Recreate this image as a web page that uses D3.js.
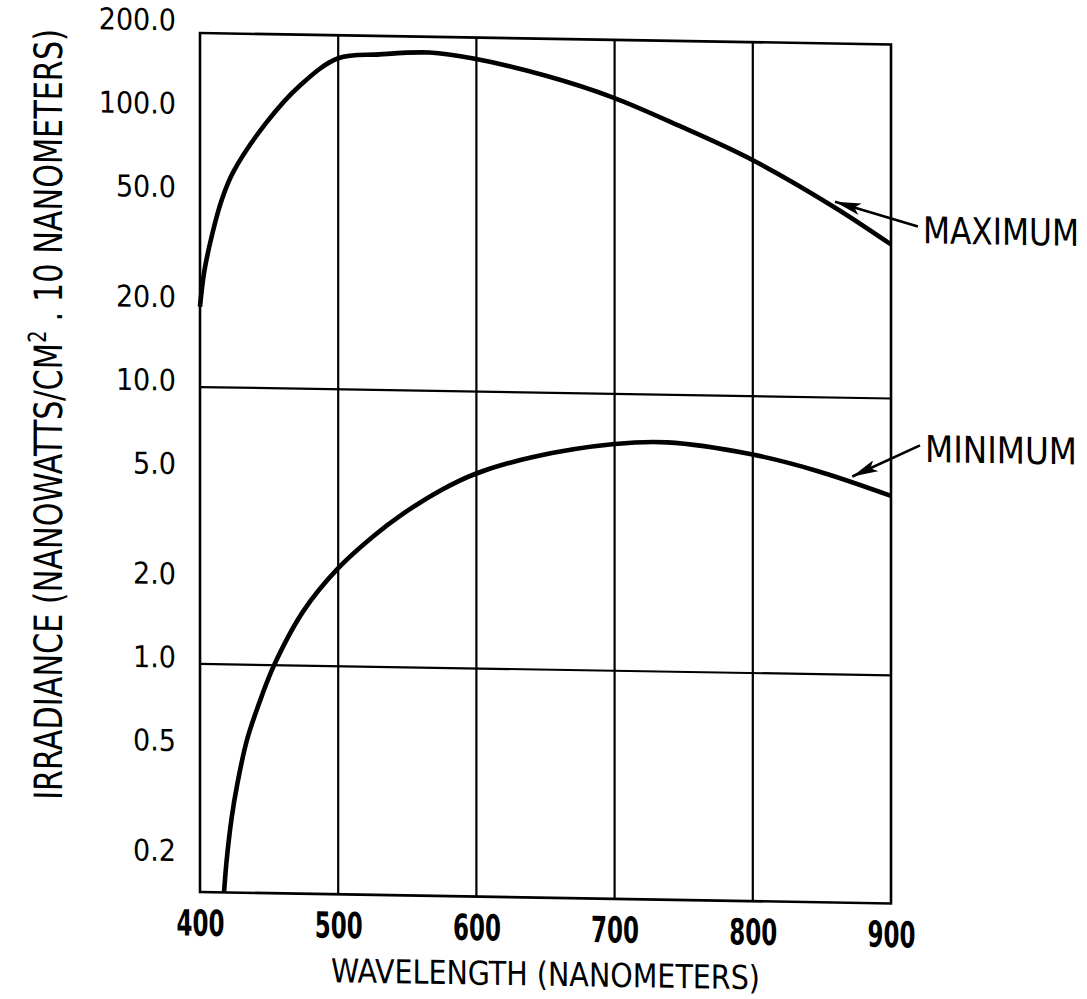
<!DOCTYPE html>
<html>
<head>
<meta charset="utf-8">
<script src="https://cdn.jsdelivr.net/npm/d3@7"></script>
<style>
  body { margin: 0; background: #fff; }
  svg { display: block; }
  text { font-family: "DejaVu Sans Condensed", "DejaVu Sans", sans-serif; fill: #000; }
</style>
</head>
<body>
<svg id="chart" width="1087" height="999"></svg>
<script>
// Axis ticks
const wavelengthTicks = [400, 500, 600, 700, 800, 900];
const irradianceTicks = [0.2, 0.5, 1, 2, 5, 10, 20, 50, 100, 200];
const gridWavelengths = [500, 600, 700, 800];
const gridIrradiance = [1, 10];

// Maximum curve
const maxWavelength = [400, 403, 409, 416, 424, 448, 472, 500, 530, 566, 598, 651, 699, 747, 798, 859, 900];
const maxIrradiance = [19.5, 26, 36, 48, 60, 91, 124, 157, 163, 166.7, 159.6, 139.4, 117.6, 93.7, 72, 48.7, 36];

// Minimum curve
const minWavelength = [417.4, 419.2, 422.8, 427, 434, 445, 454, 475, 500, 525, 545, 575, 599, 641, 700, 738, 798, 846, 900];
const minIrradiance = [0.15, 0.194, 0.277, 0.37, 0.535, 0.78, 1.01, 1.58, 2.26, 2.95, 3.53, 4.4, 5.04, 5.85, 6.59, 6.73, 6.18, 5.43, 4.45];

// Annotation labels with arrow tip / tail in data units
const annotationLabels = ['MAXIMUM', 'MINIMUM'];
const annotationWidths = [156, 152];
const arrowTips = [[859.5, 51], [872, 5.2]];
const arrowTails = [[919.5, 42], [921, 6.8]];

const margin = { top: 33, right: 196, bottom: 107, left: 200 };
const width = 1087 - margin.left - margin.right;
const height = 999 - margin.top - margin.bottom;

const svg = d3.select('#chart');

// squeeze a text horizontally to a target width (the original uses a condensed face)
function fitWidth(sel, target) {
  sel.each(function (d, i) {
    const t = typeof target === 'function' ? target(d, i) : target;
    const len = this.getComputedTextLength();
    const prev = d3.select(this).attr('transform') || '';
    d3.select(this).attr('transform', `${prev} scale(${t / len},1)`);
  });
}

// the scanned original is slightly sheared, follow it
const root = svg.append('g')
  .attr('transform', `translate(${margin.left},0) skewY(0.95) translate(${-margin.left},0)`);

const chart = root.append('g')
  .attr('transform', `translate(${margin.left},${margin.top})`);

const x = d3.scaleLinear().domain([400, 900]).range([0, width]);
const y = d3.scaleLog().domain([0.15, 190]).range([height, 0]);

// grid
chart.selectAll('.vgrid')
  .data(gridWavelengths)
  .join('line')
  .attr('class', 'vgrid')
  .attr('x1', d => x(d)).attr('x2', d => x(d))
  .attr('y1', 0).attr('y2', height)
  .attr('stroke', '#000').attr('stroke-width', 2.2);

chart.selectAll('.hgrid')
  .data(gridIrradiance)
  .join('line')
  .attr('class', 'hgrid')
  .attr('x1', 0).attr('x2', width)
  .attr('y1', d => y(d)).attr('y2', d => y(d))
  .attr('stroke', '#000').attr('stroke-width', 2.2);

chart.append('rect')
  .attr('width', width).attr('height', height)
  .attr('fill', 'none').attr('stroke', '#000').attr('stroke-width', 2.6);

// axes
const xAxis = d3.axisBottom(x).tickValues(wavelengthTicks).tickSize(0).tickPadding(18).tickFormat(d3.format('d'));
const yAxis = d3.axisLeft(y).tickValues(irradianceTicks).tickSize(0).tickPadding(24).tickFormat(d3.format('.1f'));

chart.append('g')
  .attr('transform', `translate(0,${height})`)
  .call(xAxis)
  .call(g => g.select('.domain').remove())
  .call(g => g.selectAll('text')
    .attr('font-family', null)
    .style('font-size', '36px')
    .style('font-weight', 'bold')
    .call(fitWidth, 48));

chart.append('g')
  .call(yAxis)
  .call(g => g.select('.domain').remove())
  .call(g => g.selectAll('text')
    .attr('font-family', null)
    .style('font-size', '30px')
    .attr('transform', 'translate(0,-6)'));

// curves
const line = d3.line()
  .x(d => x(d[0]))
  .y(d => y(d[1]))
  .curve(d3.curveCatmullRom.alpha(0.5));

const series = [
  d3.zip(maxWavelength, maxIrradiance),
  d3.zip(minWavelength, minIrradiance)
];

chart.selectAll('.curve')
  .data(series)
  .join('path')
  .attr('class', 'curve')
  .attr('d', line)
  .attr('fill', 'none')
  .attr('stroke', '#000')
  .attr('stroke-width', 4.6)
  .attr('stroke-linejoin', 'round');

// annotations
svg.append('defs').append('marker')
  .attr('id', 'arrow')
  .attr('markerUnits', 'userSpaceOnUse')
  .attr('viewBox', '0 0 26 12')
  .attr('refX', 26).attr('refY', 6)
  .attr('markerWidth', 26).attr('markerHeight', 12)
  .attr('orient', 'auto')
  .append('path')
  .attr('d', 'M0,0 L26,6 L0,12 L6,6 Z')
  .attr('fill', '#000');

const notes = annotationLabels.map((label, i) => ({
  label, tip: arrowTips[i], tail: arrowTails[i], w: annotationWidths[i]
}));

chart.selectAll('.arrow')
  .data(notes)
  .join('line')
  .attr('class', 'arrow')
  .attr('x1', d => x(d.tail[0])).attr('y1', d => y(d.tail[1]))
  .attr('x2', d => x(d.tip[0])).attr('y2', d => y(d.tip[1]))
  .attr('stroke', '#000').attr('stroke-width', 2.6)
  .attr('marker-end', 'url(#arrow)');

chart.selectAll('.note')
  .data(notes)
  .join('text')
  .attr('class', 'note')
  .attr('transform', d => `translate(${x(d.tail[0]) + 5},${y(d.tail[1]) + 4})`)
  .attr('dominant-baseline', 'central')
  .style('font-size', '37px')
  .text(d => d.label)
  .call(fitWidth, d => d.w);

// axis titles
chart.append('text')
  .attr('transform', `translate(${width / 2},${height + 88})`)
  .attr('text-anchor', 'middle')
  .style('font-size', '33px')
  .text('WAVELENGTH (NANOMETERS)')
  .call(fitWidth, 429);

const yTitle = root.append('text')
  .attr('transform', 'translate(62,417) rotate(-90)')
  .attr('text-anchor', 'middle')
  .style('font-size', '39px');
yTitle.append('tspan').text('IRRADIANCE (NANOWATTS/CM');
yTitle.append('tspan').attr('dy', -16).style('font-size', '25px').text('2');
yTitle.append('tspan').attr('dy', 16).text(' . 10 NANOMETERS)');
yTitle.call(fitWidth, 771);
</script>
</body>
</html>
